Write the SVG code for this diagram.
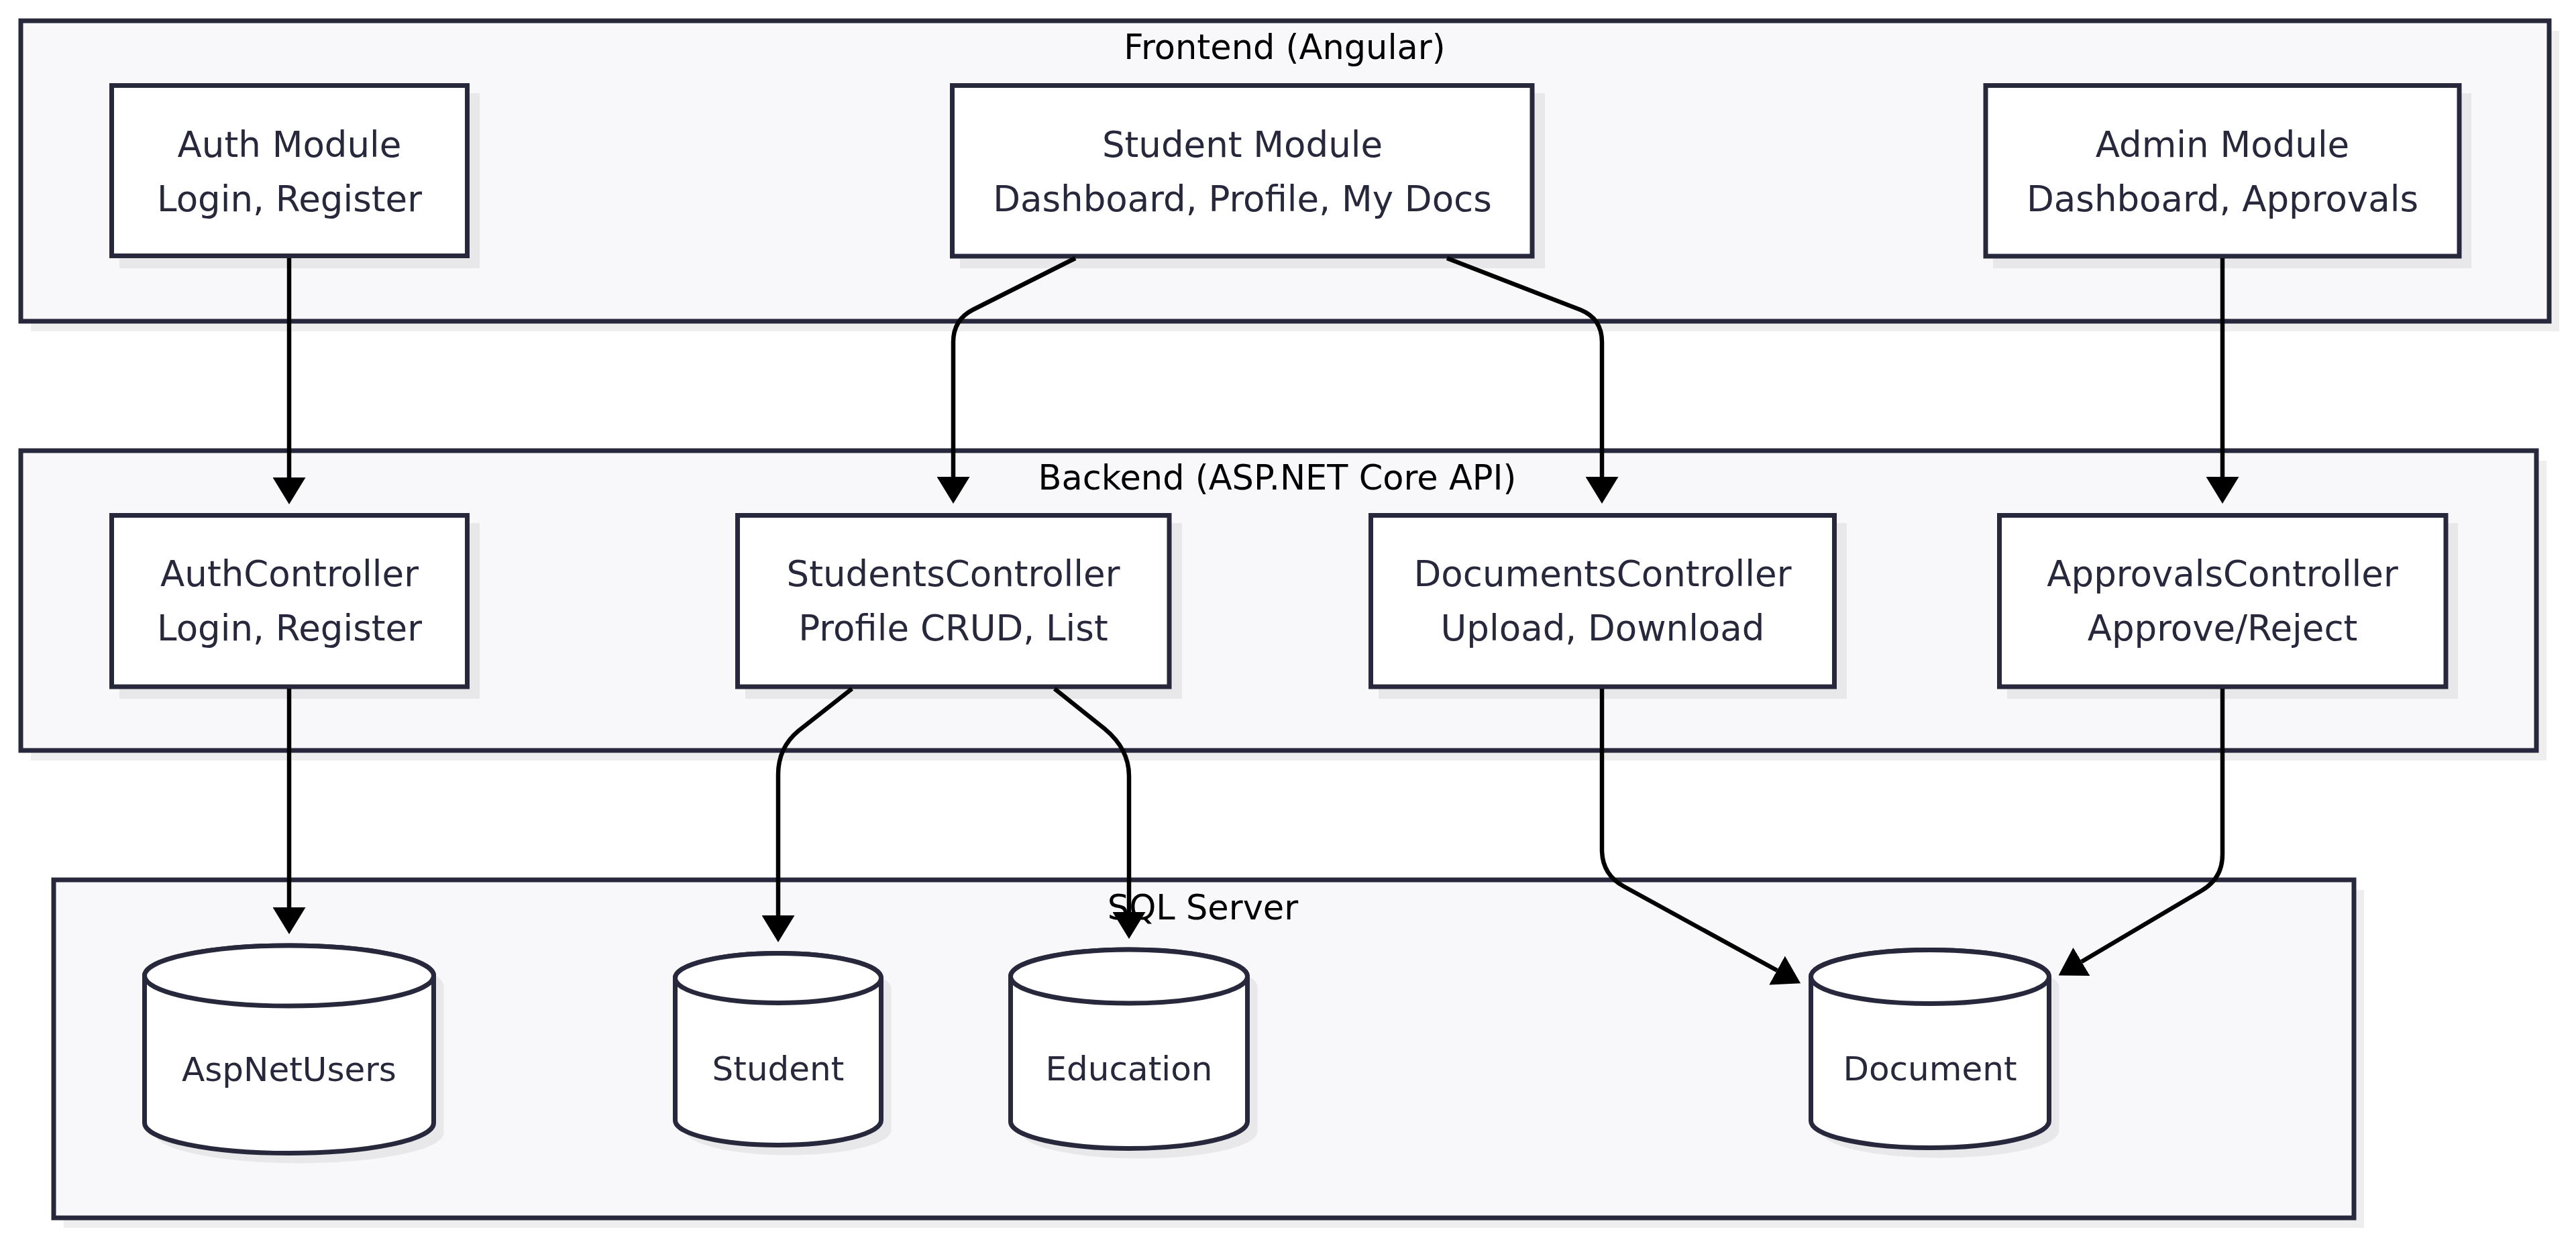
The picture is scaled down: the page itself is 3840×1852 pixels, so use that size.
<svg xmlns="http://www.w3.org/2000/svg" width="3840" height="1852" viewBox="0 0 3840 1852">
<style>
.cl{fill:#f8f8fa;stroke:#28283c;stroke-width:7}
.csh{fill:#eeeeef}
.nd{fill:#ffffff;stroke:#28283c;stroke-width:7}
.nsh{fill:#e8e8eb}
.ct{font-family:"DejaVu Sans","Liberation Sans",sans-serif;font-size:51px;fill:#000;text-anchor:middle}
.nt{font-family:"DejaVu Sans","Liberation Sans",sans-serif;font-size:53px;fill:#28283c;text-anchor:middle}
.dt{font-family:"DejaVu Sans","Liberation Sans",sans-serif;font-size:50px;fill:#28283c;text-anchor:middle}
.ed{fill:none;stroke:#000;stroke-width:6.5;marker-end:url(#arr)}
</style>
<defs>
<marker id="arr" markerUnits="userSpaceOnUse" markerWidth="40" markerHeight="49" viewBox="0 0 40 49" refX="0" refY="24.5" orient="auto"><path d="M0,0 L40,24.5 L0,49 z" fill="#000"/></marker>
</defs>
<rect width="3840" height="1852" fill="#ffffff"/>

<g id="cluster-frontend">
<rect class="csh" x="46" y="46" width="3769" height="448"/>
<rect class="cl" x="31" y="31" width="3769" height="448"/>
<text class="ct" x="1915" y="88">Frontend (Angular)</text>
</g>
<g id="cluster-backend">
<rect class="csh" x="46" y="687" width="3750" height="447"/>
<rect class="cl" x="31" y="672" width="3750" height="447"/>
<text class="ct" x="1904" y="730">Backend (ASP.NET Core API)</text>
</g>
<g id="cluster-sql">
<rect class="csh" x="95" y="1327" width="3429" height="504"/>
<rect class="cl" x="80" y="1312" width="3429" height="504"/>
<text class="ct" x="1793" y="1371">SQL Server</text>
</g>

<g id="auth-module">
<rect class="nsh" x="178" y="139" width="537" height="261"/>
<rect class="nd" x="166.5" y="127.5" width="530" height="254"/>
<text class="nt" x="431.5" y="233.5">Auth Module</text>
<text class="nt" x="431.5" y="314.5">Login, Register</text>
</g>
<g id="student-module">
<rect class="nsh" x="1431" y="139" width="872" height="261"/>
<rect class="nd" x="1419.5" y="127.5" width="864.5" height="254.5"/>
<text class="nt" x="1852" y="233.5">Student Module</text>
<text class="nt" x="1852" y="314.5">Dashboard, Profile, My Docs</text>
</g>
<g id="admin-module">
<rect class="nsh" x="2971" y="139" width="713" height="261"/>
<rect class="nd" x="2960" y="127.5" width="706" height="254.5"/>
<text class="nt" x="3313" y="233.5">Admin Module</text>
<text class="nt" x="3313" y="314.5">Dashboard, Approvals</text>
</g>

<g id="auth-controller">
<rect class="nsh" x="178" y="780" width="537" height="262"/>
<rect class="nd" x="166.5" y="768.5" width="530" height="255.5"/>
<text class="nt" x="431.5" y="874">AuthController</text>
<text class="nt" x="431.5" y="955">Login, Register</text>
</g>
<g id="students-controller">
<rect class="nsh" x="1111" y="780" width="651" height="262"/>
<rect class="nd" x="1099.5" y="768.5" width="643.5" height="255.5"/>
<text class="nt" x="1421" y="874">StudentsController</text>
<text class="nt" x="1421" y="955">Profile CRUD, List</text>
</g>
<g id="documents-controller">
<rect class="nsh" x="2055" y="780" width="698" height="262"/>
<rect class="nd" x="2043.5" y="768.5" width="691" height="255.5"/>
<text class="nt" x="2389" y="874">DocumentsController</text>
<text class="nt" x="2389" y="955">Upload, Download</text>
</g>
<g id="approvals-controller">
<rect class="nsh" x="2992" y="780" width="672" height="262"/>
<rect class="nd" x="2980.5" y="768.5" width="665.5" height="255.5"/>
<text class="nt" x="3313" y="874">ApprovalsController</text>
<text class="nt" x="3313" y="955">Approve/Reject</text>
</g>

<g id="db-aspnetusers">
<path class="nsh" d="M230.5,1470 L230.5,1689.5 A215.5,45 0 0 0 661.5,1689.5 L661.5,1470 A215.5,45 0 0 0 230.5,1470 Z"/>
<path class="nd" d="M215.5,1455 L215.5,1674.5 A215.5,45 0 0 0 646.5,1674.5 L646.5,1455 A215.5,45 0 0 0 215.5,1455 Z"/>
<ellipse class="nd" cx="431" cy="1455" rx="215.5" ry="45"/>
<text class="dt" x="431" y="1612">AspNetUsers</text>
</g>
<g id="db-student">
<path class="nsh" d="M1021.5,1473.5 L1021.5,1685.5 A153.5,37 0 0 0 1328.5,1685.5 L1328.5,1473.5 A153.5,37 0 0 0 1021.5,1473.5 Z"/>
<path class="nd" d="M1006.5,1458.5 L1006.5,1670.5 A153.5,37 0 0 0 1313.5,1670.5 L1313.5,1458.5 A153.5,37 0 0 0 1006.5,1458.5 Z"/>
<ellipse class="nd" cx="1160" cy="1458.5" rx="153.5" ry="37"/>
<text class="dt" x="1160" y="1611">Student</text>
</g>
<g id="db-education">
<path class="nsh" d="M1521.5,1471 L1521.5,1687.5 A176.5,40 0 0 0 1874.5,1687.5 L1874.5,1471 A176.5,40 0 0 0 1521.5,1471 Z"/>
<path class="nd" d="M1506.5,1456 L1506.5,1672.5 A176.5,40 0 0 0 1859.5,1672.5 L1859.5,1456 A176.5,40 0 0 0 1506.5,1456 Z"/>
<ellipse class="nd" cx="1683" cy="1456" rx="176.5" ry="40"/>
<text class="dt" x="1683" y="1611">Education</text>
</g>
<g id="db-document">
<path class="nsh" d="M2714.5,1471.5 L2714.5,1686.5 A177.5,40 0 0 0 3069.5,1686.5 L3069.5,1471.5 A177.5,40 0 0 0 2714.5,1471.5 Z"/>
<path class="nd" d="M2699.5,1456.5 L2699.5,1671.5 A177.5,40 0 0 0 3054.5,1671.5 L3054.5,1456.5 A177.5,40 0 0 0 2699.5,1456.5 Z"/>
<ellipse class="nd" cx="2877" cy="1456.5" rx="177.5" ry="40"/>
<text class="dt" x="2877" y="1611">Document</text>
</g>

<g id="connectors">
<path class="ed" d="M431,385 L431,712"/>
<path class="ed" d="M431,1027 L431,1353"/>
<path class="ed" d="M1603,385 L1450,462 Q1421,477 1421,510 L1421,711"/>
<path class="ed" d="M2157,385 L2356,462 Q2388,475 2388,510 L2388,711"/>
<path class="ed" d="M3313,385 L3313,711"/>
<path class="ed" d="M1270,1027 L1190,1090 Q1160,1115 1160,1155 L1160,1365"/>
<path class="ed" d="M1572,1027 L1647,1087 Q1683,1117 1683,1157 L1683,1360"/>
<path class="ed" d="M2388,1027 L2388,1267 Q2388,1304 2421,1322 L2649,1447"/>
<path class="ed" d="M3313,1027 L3313,1274 Q3313,1310 3282,1328 L3103,1434"/>
</g>
</svg>
